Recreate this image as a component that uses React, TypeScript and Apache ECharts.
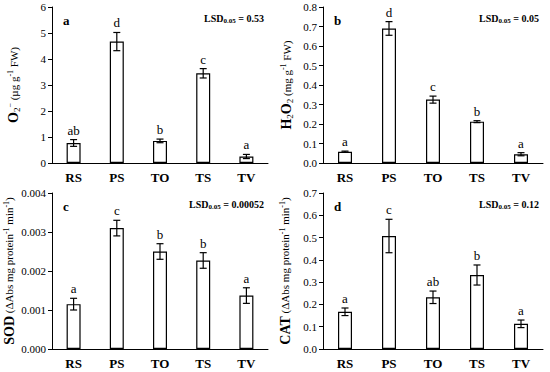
import React, { useEffect, useRef } from "react";
import * as echarts from "echarts";

const categories = ["RS", "PS", "TO", "TS", "TV"];

const o2Values = [0.77, 4.67, 0.85, 3.45, 0.25];
const o2Errors = [0.13, 0.35, 0.07, 0.18, 0.08];
const o2Letters = ["ab", "d", "b", "c", "a"];

const h2o2Values = [0.058, 0.69, 0.325, 0.212, 0.045];
const h2o2Errors = [0.003, 0.035, 0.018, 0.005, 0.008];
const h2o2Letters = ["a", "d", "c", "b", "a"];

const sodValues = [0.00115, 0.0031, 0.0025, 0.00227, 0.00137];
const sodErrors = [0.00015, 0.0002, 0.0002, 0.0002, 0.0002];
const sodLetters = ["a", "c", "b", "b", "a"];

const catValues = [0.167, 0.507, 0.232, 0.332, 0.113];
const catErrors = [0.017, 0.075, 0.028, 0.045, 0.017];
const catLetters = ["a", "c", "ab", "b", "a"];

const FONT = "'Liberation Serif', 'DejaVu Serif', serif";

const panels = [
  {
    tag: "a", lsd: "0.53", values: o2Values, errors: o2Errors, letters: o2Letters,
    max: 6, interval: 1, decimals: 0,
    name: "{b|O}{sub|2}{sup|−}{r| (µg g}{sup|-1}{r| FW)}",
    grid: { left: 52, top: 7, width: 216, height: 156 }, nameGap: 31,
  },
  {
    tag: "b", lsd: "0.05", values: h2o2Values, errors: h2o2Errors, letters: h2o2Letters,
    max: 0.8, interval: 0.1, decimals: 1,
    name: "{b|H}{sub|2}{b|O}{sub|2}{r| (mg g}{sup|-1}{r| FW)}",
    grid: { left: 323, top: 7, width: 220, height: 156 }, nameGap: 29,
  },
  {
    tag: "c", lsd: "0.00052", values: sodValues, errors: sodErrors, letters: sodLetters,
    max: 0.004, interval: 0.001, decimals: 3,
    name: "{b|SOD}{r| (ΔAbs mg protein}{sup|-1}{r| min}{sup|-1}{r|)}",
    grid: { left: 52, top: 193, width: 216, height: 156 }, nameGap: 36,
  },
  {
    tag: "d", lsd: "0.12", values: catValues, errors: catErrors, letters: catLetters,
    max: 0.7, interval: 0.1, decimals: 1,
    name: "{b|CAT}{r| (ΔAbs mg protein}{sup|-1}{r| min}{sup|-1}{r|)}",
    grid: { left: 323, top: 193, width: 220, height: 156 }, nameGap: 31,
  },
];

export default function App() {
  const ref = useRef<HTMLDivElement>(null);
  useEffect(() => {
    if (!ref.current) return;
    const chart = echarts.init(ref.current, null, { renderer: "svg" });
    const grids: any[] = [];
    const xAxes: any[] = [];
    const yAxes: any[] = [];
    const series: any[] = [];
    const graphics: any[] = [];
    panels.forEach((p, i) => {
      grids.push({ ...p.grid, containLabel: false });
      xAxes.push({
        type: "category", gridIndex: i, data: categories,
        axisLine: { lineStyle: { color: "#000", width: 1 } },
        axisTick: { show: false },
        axisLabel: { color: "#000", fontFamily: FONT, fontWeight: "bold", fontSize: 13, margin: 8 },
      });
      yAxes.push({
        type: "value", gridIndex: i, min: 0, max: p.max, interval: p.interval,
        splitLine: { show: false },
        axisLine: { show: true, lineStyle: { color: "#000", width: 1 } },
        axisTick: { show: true, inside: false, length: 4, lineStyle: { color: "#000" } },
        axisLabel: {
          color: "#000", fontFamily: FONT, fontSize: 11, margin: 6,
          formatter: (v: number) => v.toFixed(p.decimals),
        },
        name: p.name, nameLocation: "middle", nameRotate: 90, nameGap: p.nameGap,
        nameTextStyle: {
          fontFamily: FONT, color: "#000",
          rich: {
            b: { fontFamily: FONT, fontSize: 14, fontWeight: "bold", color: "#000", verticalAlign: "middle" },
            r: { fontFamily: FONT, fontSize: 11, color: "#000", verticalAlign: "middle" },
            sub: { fontFamily: FONT, fontSize: 9, color: "#000", verticalAlign: "bottom", padding: [6, 0, 0, 0] },
            sup: { fontFamily: FONT, fontSize: 8, color: "#000", verticalAlign: "top", padding: [0, 0, 5, 0] },
          },
        },
      });
      series.push({
        type: "bar", xAxisIndex: i, yAxisIndex: i, data: p.values, barWidth: 14,
        itemStyle: { color: "#fff", borderColor: "#000", borderWidth: 1.2 },
        silent: true,
      });
      const letters = p.letters;
      series.push({
        type: "custom", xAxisIndex: i, yAxisIndex: i,
        data: p.values.map((v, k) => [k, v, p.errors[k]]),
        renderItem: (params: any, api: any) => {
          const x = api.value(0), v = api.value(1), e = api.value(2);
          const top = api.coord([x, v + e]);
          const bot = api.coord([x, v - e]);
          const hw = 3.5;
          return {
            type: "group",
            children: [
              { type: "line", shape: { x1: top[0], y1: top[1], x2: bot[0], y2: bot[1] }, style: { stroke: "#000", lineWidth: 1.2 } },
              { type: "line", shape: { x1: top[0] - hw, y1: top[1], x2: top[0] + hw, y2: top[1] }, style: { stroke: "#000", lineWidth: 1.2 } },
              { type: "line", shape: { x1: bot[0] - hw, y1: bot[1], x2: bot[0] + hw, y2: bot[1] }, style: { stroke: "#000", lineWidth: 1.2 } },
              {
                type: "text",
                style: {
                  text: letters[params.dataIndex], x: top[0], y: top[1] - 3,
                  textAlign: "center", textVerticalAlign: "bottom",
                  fontFamily: FONT, fontSize: 13, fill: "#000",
                },
              },
            ],
          };
        },
        z: 5, silent: true,
      });
      const g = p.grid;
      graphics.push({
        type: "text", left: g.left + 11, top: g.top + 7,
        style: { text: p.tag, fontFamily: FONT, fontSize: 13, fontWeight: "bold", fill: "#000" },
      });
      graphics.push({
        type: "text", right: 550 - (g.left + g.width) + 4, top: g.top + 6,
        style: {
          text: `{l|LSD}{s|0.05}{l| = ${p.lsd}}`,
          rich: {
            l: { fontFamily: FONT, fontSize: 10, fontWeight: "bold", fill: "#000", verticalAlign: "middle" },
            s: { fontFamily: FONT, fontSize: 7, fontWeight: "bold", fill: "#000", verticalAlign: "bottom", padding: [5, 0, 0, 0] },
          },
        },
      });
    });
    chart.setOption({
      animation: false,
      backgroundColor: "#fff",
      grid: grids, xAxis: xAxes, yAxis: yAxes, series, graphic: graphics,
    });
    return () => chart.dispose();
  }, []);
  return <div ref={ref} style={{ position: "absolute", left: 0, top: 0, width: 550, height: 372 }} />;
}
